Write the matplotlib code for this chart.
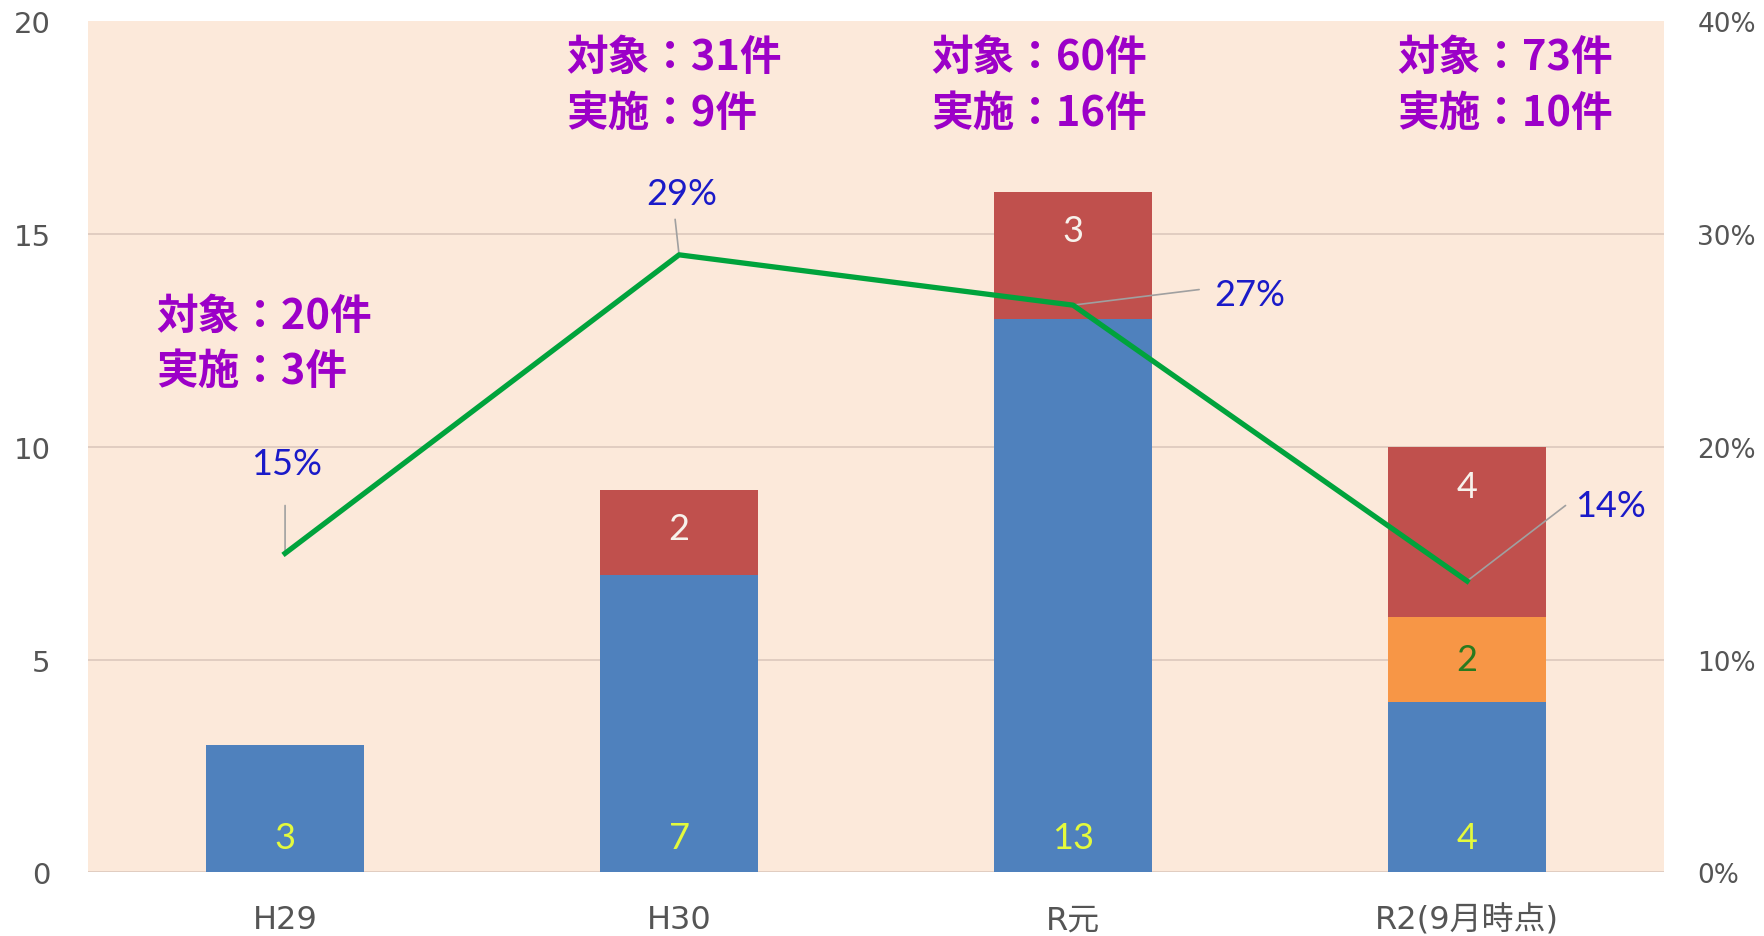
import numpy as np
import matplotlib.pyplot as plt
from matplotlib.ticker import PercentFormatter

plt.rcParams['font.family'] = ['Noto Sans CJK JP', 'DejaVu Sans']

years = ['H29', 'H30', 'R元', 'R2(9月時点)']
blueVals = [3, 7, 13, 4]
orangeVals = [0, 0, 0, 2]
redVals = [0, 2, 3, 4]
targets = [20, 31, 60, 73]
done = [3, 9, 16, 10]

# label placement (purely layout)
notePos = [(-0.327, 13.09), (0.713, 19.17), (1.639, 19.17), (2.823, 19.17)]
pctText = [(0.003, 0.192), (1.007, 0.319), (2.448, 0.2715), (3.364, 0.1727)]
pctLeader = [(0.0, 0.1725), (0.99, 0.307), (2.32, 0.274), (3.25, 0.1725)]

blue = '#4F81BD'
red = '#C0504D'
orange = '#F79646'
bg = '#FCE9DA'
purple = '#9C00C8'

rate = np.array(done) / np.array(targets)
x = np.arange(len(years))

fig = plt.figure(figsize=(17.65, 9.37), dpi=100)
ax = fig.add_axes([0.0499, 0.0678, 0.8929, 0.9082])
ax.set_facecolor(bg)

b = np.array(blueVals)
o = np.array(orangeVals)
r = np.array(redVals)
w = 0.4
ax.bar(x, b, w, color=blue, zorder=2)
ax.bar(x, o, w, bottom=b, color=orange, zorder=2)
ax.bar(x, r, w, bottom=b + o, color=red, zorder=2)

num_font = ['Lato', 'DejaVu Sans']
tick_font = ['DejaVu Sans', 'Noto Sans CJK JP']
for i in range(len(x)):
    ax.text(x[i], 0.82, str(b[i]), ha='center', va='center', fontsize=26,
            color='#E4FA3C', family=num_font, zorder=3)
    if o[i] > 0:
        ax.text(x[i], b[i] + o[i] / 2, str(o[i]), ha='center', va='center',
                fontsize=26, color='#2A7A1E', family=num_font, zorder=3)
    if r[i] > 0:
        ax.text(x[i], b[i] + o[i] + r[i] - 0.92, str(r[i]), ha='center', va='center',
                fontsize=26, color='#F7F2EC', family=num_font, zorder=3)

ax.set_xlim(-0.5, 3.5)
ax.set_ylim(0, 20)
ax.set_yticks([0, 5, 10, 15, 20])
ax.set_xticks(x)
ax.set_xticklabels(years, family=tick_font)
ax.set_yticklabels([str(v) for v in [0, 5, 10, 15, 20]], family=tick_font)
ax.yaxis.grid(True, color='#DCC8BC', lw=1.2, zorder=0)
ax.set_axisbelow(True)
ax.get_ygridlines()[-1].set_visible(False)
ax.tick_params(axis='y', length=0, pad=27, labelsize=21, labelcolor='#555555')
ax.tick_params(axis='x', length=0, pad=23, labelsize=23, labelcolor='#555555')
for s in ax.spines.values():
    s.set_visible(False)

for i in range(len(x)):
    nx, ny = notePos[i]
    ax.text(nx, ny, f'対象：{targets[i]}件', ha='left', va='center', fontsize=30,
            fontweight='bold', color=purple, zorder=4)
    ax.text(nx, ny - 1.31, f'実施：{done[i]}件', ha='left', va='center', fontsize=30,
            fontweight='bold', color=purple, zorder=4)

ax2 = ax.twinx()
ax2.set_ylim(0, 0.4)
ax2.set_yticks([0, 0.1, 0.2, 0.3, 0.4])
ax2.yaxis.set_major_formatter(PercentFormatter(1.0, decimals=0))
for lab in ax2.get_yticklabels():
    lab.set_family(tick_font)
ax2.tick_params(axis='y', length=0, pad=24, labelsize=19, labelcolor='#555555')
for s in ax2.spines.values():
    s.set_visible(False)

ax2.plot(x, rate, color='#00A33C', lw=3.8, zorder=5)
for i in range(len(x)):
    ax2.annotate('', xy=(x[i], rate[i]), xytext=pctLeader[i],
                 arrowprops=dict(arrowstyle='-', color='#A0A0A0', lw=1.2,
                                 shrinkA=0, shrinkB=0))
    tx, ty = pctText[i]
    ax2.text(tx, ty, f'{round(rate[i] * 100)}%', ha='center', va='center',
             fontsize=26, color='#1A1AC8', family=num_font, zorder=6)

fig.savefig('out.png', dpi=100)
